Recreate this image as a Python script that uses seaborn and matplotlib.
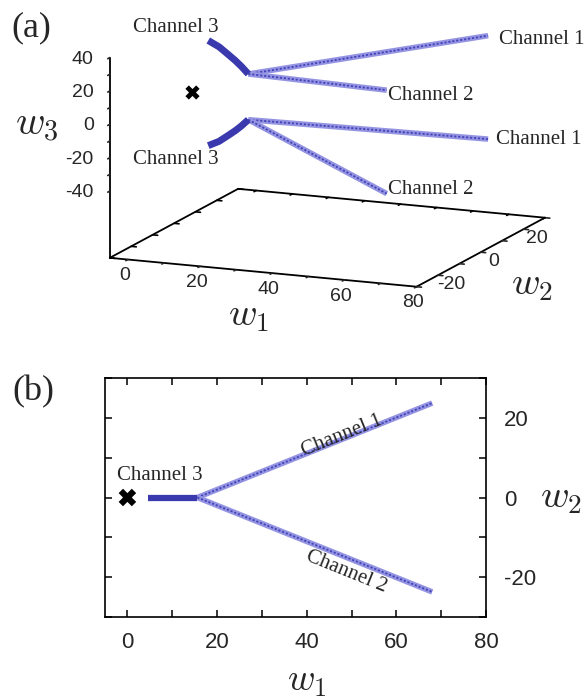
import numpy as np
import pandas as pd
import matplotlib
matplotlib.use("Agg")
import matplotlib.pyplot as plt
import seaborn as sns

# ---------------- data ----------------
ch3_w1 = [4.5, 7.5, 10.0, 12.0, 13.7, 15.6]
ch3_w2 = [0.0, 0.0, 0.0, 0.0, 0.0, 0.0]
ch3_w3_upper = [31.5, 28.3, 24.3, 21.0, 17.8, 13.7]
ch3_w3_lower = [-31.5, -28.3, -24.3, -21.0, -17.8, -13.7]

ch1_w1 = [15.6, 68.0]
ch1_w2 = [0.0, 23.7]
ch1_w3_upper = [13.7, 31.0]
ch1_w3_lower = [-13.7, -31.0]

ch2_w1 = [15.6, 68.0]
ch2_w2 = [0.0, -23.7]
ch2_w3_upper = [13.7, 31.0]
ch2_w3_lower = [-13.7, -31.0]

cross_w = [0.0, 0.0, 0.0]

labels_a = ["Channel 3", "Channel 1", "Channel 2"]

# ---------------- style ----------------
sns.set_theme(style="ticks")
plt.rcParams["font.family"] = ["Liberation Sans", "DejaVu Sans"]
plt.rcParams["mathtext.fontset"] = "cm"
plt.rcParams["axes.unicode_minus"] = False

DARK = "#3a3aae"
LIGHT = "#9494e2"
MID = "#4444b8"
SERIF = ["Liberation Serif", "DejaVu Serif"]

W, H = 586, 700
fig = plt.figure(figsize=(W / 100, H / 100), dpi=100)
fig.patch.set_facecolor("white")


def fx(x):
    return x / W


def fy(y):
    return 1 - y / H


# ================= panel (a): 3D =================
S = 470
cx, cy = 321, 144
ax = fig.add_axes([fx(cx - S / 2), fy(cy + S / 2), S / W, S / H], projection="3d")
ax.set_proj_type("ortho")
ax.view_init(elev=13.0, azim=-67.3)
ax.set_xlim(-5, 80)
ax.set_ylim(-30, 30)
ax.set_zlim(-80, 40)
ax.set_box_aspect((1, 1, 0.618), zoom=1.06)
ax.set_facecolor((1, 1, 1, 0))
ax.grid(False)
for axis in (ax.xaxis, ax.yaxis, ax.zaxis):
    axis.set_pane_color((1, 1, 1, 0))
    axis.pane.set_edgecolor((1, 1, 1, 0))
    axis.line.set_color("black")
    axis.line.set_linewidth(1.3)
    axis._axinfo["tick"]["inward_factor"] = 0.2
    axis._axinfo["tick"]["outward_factor"] = 0.0
    axis._axinfo["tick"]["linewidth"] = {True: 1.2, False: 1.2}
    axis._axinfo["tick"]["color"] = "black"
ax.xaxis.set_tick_params(pad=-3)
ax.yaxis.set_tick_params(pad=-0.5)
ax.zaxis.set_tick_params(pad=-1.5)
ax.zaxis.set_ticks_position("lower")

xt = np.arange(0, 81, 10)
yt = np.arange(-30, 31, 10)
zt = np.arange(-40, 41, 10)
ax.set_xticks(xt)
ax.set_xticklabels([str(v) if v % 20 == 0 else "" for v in xt], fontsize=14)
ax.set_yticks(yt)
ax.set_yticklabels([str(v) if v % 20 == 0 else "" for v in yt], fontsize=14,
                   va="center")
ax.set_zticks(zt)
ax.set_zticklabels([str(v) if v % 20 == 0 else "" for v in zt], fontsize=14,
                   ha="right", va="center")

# back edges of the base plane (frame) with their small ticks
x0, x1 = ax.get_xlim()
y0, y1 = ax.get_ylim()
z0, _ = ax.get_zlim()
ax.plot([x0, x1], [y1, y1], [z0, z0], color="black", lw=1.3)
ax.plot([x0, x0], [y0, y1], [z0, z0], color="black", lw=1.3)
ty = 0.2 * (y1 - y0) / 12
tx = 0.2 * (x1 - x0) / 12
for t in xt:
    ax.plot([t, t], [y1, y1 - ty], [z0, z0], color="black", lw=1.2)
for t in yt:
    ax.plot([x0, x0 + tx], [t, t], [z0, z0], color="black", lw=1.2)


def band3d(xs, ys, zs, thick=False):
    if thick:
        ax.plot(xs, ys, zs, color=DARK, lw=5.0, solid_capstyle="butt")
    else:
        ax.plot(xs, ys, zs, color=LIGHT, lw=4.0, solid_capstyle="butt")
        ax.plot(xs, ys, zs, color=MID, lw=1.3, dashes=(1.2, 1.0))


for w3a, w3b, w3c in [(ch3_w3_upper, ch1_w3_upper, ch2_w3_upper),
                      (ch3_w3_lower, ch1_w3_lower, ch2_w3_lower)]:
    band3d(ch1_w1, ch1_w2, w3b)
    band3d(ch2_w1, ch2_w2, w3c)
    band3d(ch3_w1, ch3_w2, w3a, thick=True)

ax.scatter([cross_w[0]], [cross_w[1]], [cross_w[2]], marker="x", s=60,
           color="black", linewidths=3.5, depthshade=False)

# axis labels of (a)
fig.text(fx(37), fy(125), r"$w_3$", fontsize=29, ha="center", va="center")
fig.text(fx(249), fy(316), r"$w_1$", fontsize=28, ha="center", va="center")
fig.text(fx(532), fy(285), r"$w_2$", fontsize=28, ha="center", va="center")

# channel labels of (a)
for (txt, x, y) in [(labels_a[0], 133, 27), (labels_a[0], 133, 160),
                    (labels_a[1], 499, 40), (labels_a[1], 496, 139),
                    (labels_a[2], 388, 96), (labels_a[2], 388, 190)]:
    fig.text(fx(x), fy(y), txt, fontsize=15, family=SERIF, ha="left", va="center")

fig.text(fx(31), fy(28), "(a)", fontsize=26, family=SERIF, ha="center", va="center")

# ================= panel (b): 2D =================
ax2 = fig.add_axes([fx(105), fy(617), (486 - 105) / W, (617 - 378) / H])
ax2.set_facecolor("white")

df1 = pd.DataFrame({"w1": ch1_w1, "w2": ch1_w2})
df2 = pd.DataFrame({"w1": ch2_w1, "w2": ch2_w2})
df3 = pd.DataFrame({"w1": ch3_w1, "w2": ch3_w2})
for d in (df1, df2):
    sns.lineplot(data=d, x="w1", y="w2", ax=ax2, sort=False, estimator=None,
                 color=LIGHT, lw=4.0, solid_capstyle="butt")
    sns.lineplot(data=d, x="w1", y="w2", ax=ax2, sort=False, estimator=None,
                 color=MID, lw=1.3, dashes=False, linestyle=(0, (1.2, 1.0)))
sns.lineplot(data=df3, x="w1", y="w2", ax=ax2, sort=False, estimator=None,
             color=DARK, lw=4.5, solid_capstyle="butt")
sns.scatterplot(x=[cross_w[0]], y=[cross_w[1]], ax=ax2, marker="X", s=160,
                color="black", edgecolor="none", zorder=5)

ax2.set_xlim(-5, 80)
ax2.set_ylim(-30, 30)
ax2.set_xticks(np.arange(0, 81, 20))
ax2.set_xticks(np.arange(10, 81, 20), minor=True)
ax2.set_yticks([-20, 0, 20])
ax2.set_yticks([-30, -10, 10, 30], minor=True)
ax2.tick_params(which="both", direction="in", top=True, bottom=True, left=True,
                right=True, labelleft=False, labelright=True, length=5, width=1.1,
                color="black")
ax2.tick_params(axis="x", which="major", labelsize=16, pad=11)
ax2.tick_params(axis="y", which="major", labelsize=16, pad=13)
for s in ax2.spines.values():
    s.set_visible(True)
    s.set_linewidth(1.2)
    s.set_color("black")
ax2.set_xlabel("")
ax2.set_ylabel("")

fig.text(fx(307), fy(699), r"$w_1$", fontsize=27, ha="center", va="bottom")
fig.text(fx(561), fy(498), r"$w_2$", fontsize=28, ha="center", va="center")

fig.text(fx(117), fy(476), "Channel 3", fontsize=15, family=SERIF, ha="left", va="center")
fig.text(fx(342), fy(436), "Channel 1", fontsize=15, family=SERIF, ha="center",
         va="center", rotation=22)
fig.text(fx(346), fy(572), "Channel 2", fontsize=15, family=SERIF, ha="center",
         va="center", rotation=-22)

fig.text(fx(33), fy(392), "(b)", fontsize=26, family=SERIF, ha="center", va="center")

fig.savefig("out.png", dpi=100, facecolor="white")
